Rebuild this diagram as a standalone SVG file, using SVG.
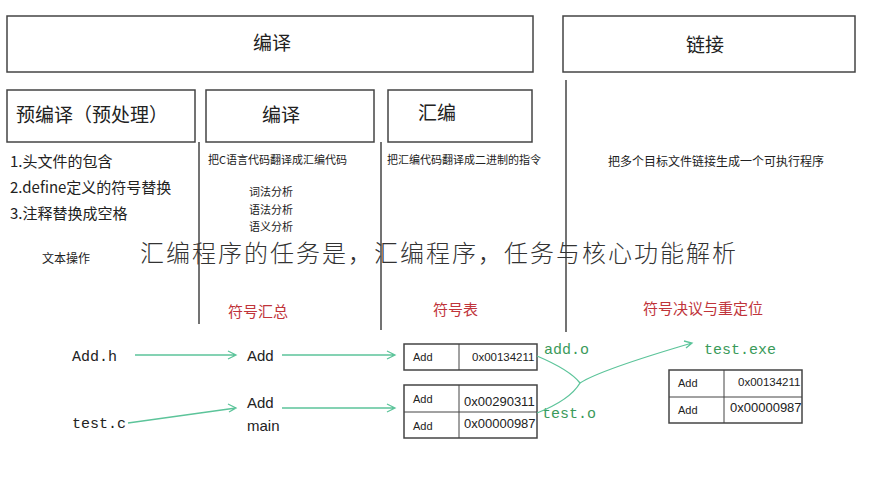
<svg xmlns="http://www.w3.org/2000/svg" width="875" height="490" viewBox="0 0 875 490">
<style>
.b{fill:none;stroke:#444;stroke-width:1.5}
.t{font-family:"Noto Sans CJK SC","Noto Sans",sans-serif;fill:#222}
.r{font-family:"Noto Sans CJK SC",sans-serif;fill:#c0343a;font-size:15px}
.m{font-family:"Liberation Mono","DejaVu Sans Mono",monospace;fill:#222;font-size:15px}
.g{font-family:"Liberation Mono","DejaVu Sans Mono",monospace;fill:#3a9a5a;font-size:15px}
.s{font-family:"Liberation Sans",sans-serif;fill:#222}
.c{fill:none;stroke:#5cc49a;stroke-width:1.3}
</style>
<rect width="875" height="490" fill="#fff"/>
<g id="compile-top"><rect class="b" x="7" y="16" width="526" height="56"/><text class="t" x="253" y="50" font-size="19">编译</text></g>
<g id="link-top"><rect class="b" x="563" y="16" width="292" height="56"/><text class="t" x="686" y="52" font-size="19">链接</text></g>
<g id="precompile"><rect class="b" x="7" y="90" width="188" height="52"/><text class="t" x="16" y="122" font-size="19">预编译（预处理）</text>
<text class="t" x="10" y="167" font-size="15">1.头文件的包含</text><text class="t" x="10" y="193" font-size="15">2.define定义的符号替换</text><text class="t" x="10" y="219" font-size="15">3.注释替换成空格</text><text class="t" x="42" y="263" font-size="12">文本操作</text></g>
<g id="compile"><rect class="b" x="206" y="90" width="168" height="52"/><text class="t" x="262" y="122" font-size="19">编译</text>
<text class="t" x="208" y="164" font-size="11">把C语言代码翻译成汇编代码</text><text class="t" x="249" y="196" font-size="11">词法分析</text><text class="t" x="249" y="214" font-size="11">语法分析</text><text class="t" x="249" y="231" font-size="11">语义分析</text><text class="r" x="228" y="317">符号汇总</text></g>
<g id="assemble"><rect class="b" x="388" y="90" width="144" height="52"/><text class="t" x="418" y="120" font-size="19">汇编</text>
<text class="t" x="387" y="164" font-size="11">把汇编代码翻译成二进制的指令</text><text class="r" x="433" y="315">符号表</text></g>
<g id="link"><text class="t" x="608" y="166" font-size="12">把多个目标文件链接生成一个可执行程序</text><text class="r" x="643" y="314" font-size="13">符号决议与重定位</text></g>
<g id="dividers" stroke="#444" stroke-width="1.5"><line x1="199" y1="142" x2="199" y2="324"/><line x1="381" y1="142" x2="381" y2="330"/><line x1="566" y1="80" x2="566" y2="332"/></g>
<g id="tables" class="s" font-size="11">
<rect class="b" x="404" y="344" width="133" height="26" stroke-width="1"/><line x1="459" y1="344" x2="459" y2="370" stroke="#444"/><text x="413" y="361">Add</text><text x="472" y="361" font-size="11.5">0x00134211</text>
<rect class="b" x="404" y="385" width="133" height="53" stroke-width="1"/><line x1="459" y1="385" x2="459" y2="438" stroke="#444"/><line x1="404" y1="412" x2="537" y2="412" stroke="#444"/><text x="413" y="403">Add</text><text x="413" y="430">Add</text><text x="464" y="406" font-size="13">0x00290311</text><text x="464" y="428" font-size="13">0x00000987</text>
<rect class="b" x="669" y="370" width="133" height="53" stroke-width="1"/><line x1="724" y1="370" x2="724" y2="423" stroke="#444"/><line x1="669" y1="397" x2="802" y2="397" stroke="#444"/><text x="678" y="387">Add</text><text x="678" y="414">Add</text><text x="738" y="386" font-size="11.5">0x00134211</text><text x="730" y="412" font-size="13">0x00000987</text></g>
<g id="labels"><text class="m" x="72" y="361">Add.h</text><text class="m" x="72" y="428">test.c</text><text class="s" x="247" y="361" font-size="15">Add</text><text class="s" x="247" y="408" font-size="15">Add</text><text class="s" x="247" y="431" font-size="15">main</text>
<text class="g" x="544" y="354">add.o</text><text class="g" x="542" y="418">test.o</text><text class="g" x="704" y="354">test.exe</text></g>
<g id="connectors" class="c">
<path d="M135 355H236M228 351L236 355L228 359"/>
<path d="M128 423L236 408M228 404L236 408L229 412"/>
<path d="M282 355H395M387 351L395 355L387 359"/>
<path d="M282 408H395M387 404L395 408L387 412"/>
<path d="M537 356Q570 370 580 383Q570 400 537 413"/>
<path d="M580 383Q600 370 692 343M684 341L692 343L686 348"/>
</g>
<text x="140" y="262" font-family="Noto Sans CJK SC,sans-serif" font-size="24" font-weight="300" fill="#333" textLength="596" lengthAdjust="spacing">汇编程序的任务是，汇编程序，任务与核心功能解析</text>
</svg>
